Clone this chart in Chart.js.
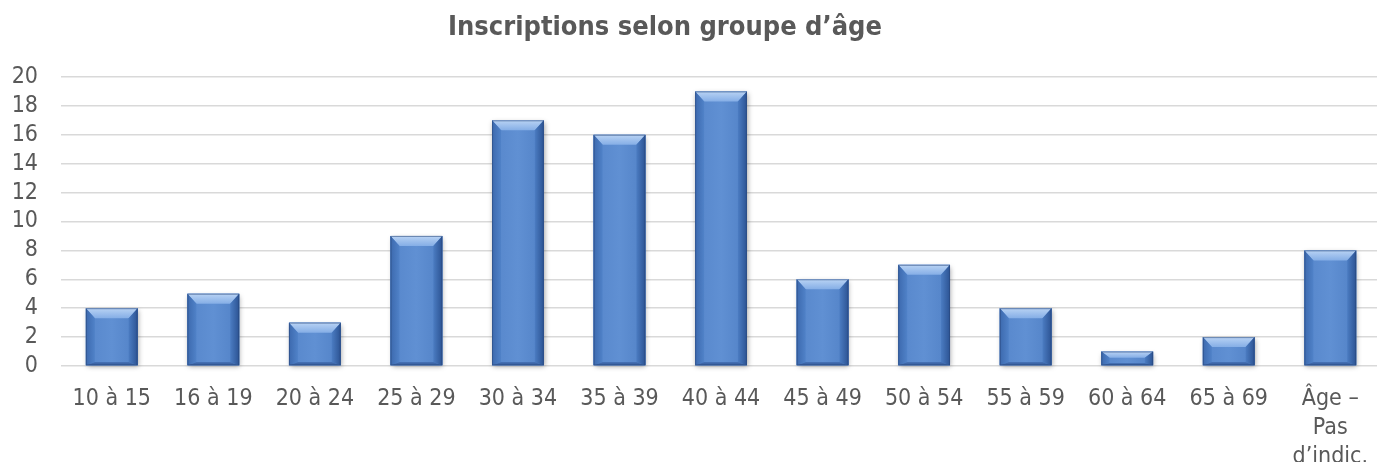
<!DOCTYPE html>
<html>
<head>
<meta charset="utf-8">
<script src="https://cdn.jsdelivr.net/npm/chart.js@4"></script>
<style>
html,body{margin:0;padding:0;background:#fff;overflow:hidden;width:1377px;height:462px;}
#wrap{position:relative;width:1387px;height:462px;}
canvas{display:block;}
</style>
</head>
<body>
<div id="wrap"><canvas id="c" width="1387" height="462"></canvas></div>
<script>
const chartTitle = "Inscriptions selon groupe d\u2019\u00e2ge";
const categories = ["10 \u00e0 15","16 \u00e0 19","20 \u00e0 24","25 \u00e0 29","30 \u00e0 34","35 \u00e0 39","40 \u00e0 44","45 \u00e0 49","50 \u00e0 54","55 \u00e0 59","60 \u00e0 64","65 \u00e0 69",["\u00c2ge \u2013","Pas","d\u2019indic."]];
const inscriptions = [4,5,3,9,17,16,19,6,7,4,1,2,8];
const yMin = 0, yMax = 20, yStep = 2;

const FONT = "'DejaVu Sans Condensed','DejaVu Sans',sans-serif";
const TXT = '#595959';

const titlePlugin = {
  id: 'customTitle',
  afterDraw(chart) {
    const ctx = chart.ctx;
    ctx.save();
    ctx.font = "bold 27px " + FONT;
    ctx.fillStyle = TXT;
    ctx.textAlign = 'center';
    ctx.textBaseline = 'alphabetic';
    ctx.fillText(chartTitle, 665, 35);
    ctx.restore();
  }
};

const bevelPlugin = {
  id: 'bevel',
  beforeDatasetsDraw(chart) {
    const ctx = chart.ctx;
    const meta = chart.getDatasetMeta(0);
    ctx.save();
    meta.data.forEach(bar => {
      const l = bar.x - bar.width / 2, r = bar.x + bar.width / 2;
      const t = bar.y, b = bar.base;
      ctx.shadowColor = 'rgba(0,0,0,0.35)';
      ctx.shadowBlur = 5;
      ctx.shadowOffsetX = 1;
      ctx.shadowOffsetY = 2;
      ctx.fillStyle = '#4f7fc4';
      ctx.fillRect(l, t, r - l, b - t);
    });
    ctx.restore();
  },
  afterDatasetsDraw(chart) {
    const ctx = chart.ctx;
    const meta = chart.getDatasetMeta(0);
    ctx.save();
    meta.data.forEach(bar => {
      const l = bar.x - bar.width / 2, r = bar.x + bar.width / 2;
      const t = bar.y, b = bar.base;
      const h = b - t;
      const dt = Math.min(10, h * 0.45), ds = Math.min(9, h * 0.6), db = Math.min(3, h * 0.15);
      let g = ctx.createLinearGradient(l, 0, r, 0);
      g.addColorStop(0, '#5686cb');
      g.addColorStop(0.5, '#6090d3');
      g.addColorStop(1, '#5181c6');
      ctx.fillStyle = g;
      ctx.fillRect(l, t, r - l, h);
      g = ctx.createLinearGradient(0, t, 0, t + dt);
      g.addColorStop(0, '#b9d3f4');
      g.addColorStop(1, '#85aee6');
      ctx.fillStyle = g;
      ctx.beginPath();
      ctx.moveTo(l, t); ctx.lineTo(r, t); ctx.lineTo(r - ds, t + dt); ctx.lineTo(l + ds, t + dt); ctx.closePath();
      ctx.fill();
      g = ctx.createLinearGradient(l, 0, l + ds, 0);
      g.addColorStop(0, '#3c69ae');
      g.addColorStop(1, '#5082c8');
      ctx.fillStyle = g;
      ctx.beginPath();
      ctx.moveTo(l, t); ctx.lineTo(l + ds, t + dt); ctx.lineTo(l + ds, b - db); ctx.lineTo(l, b); ctx.closePath();
      ctx.fill();
      g = ctx.createLinearGradient(r - ds, 0, r, 0);
      g.addColorStop(0, '#4b7cc2');
      g.addColorStop(1, '#2c5393');
      ctx.fillStyle = g;
      ctx.beginPath();
      ctx.moveTo(r, t); ctx.lineTo(r - ds, t + dt); ctx.lineTo(r - ds, b - db); ctx.lineTo(r, b); ctx.closePath();
      ctx.fill();
      ctx.fillStyle = '#3d66a8';
      ctx.beginPath();
      ctx.moveTo(l, b); ctx.lineTo(l + ds, b - db); ctx.lineTo(r - ds, b - db); ctx.lineTo(r, b); ctx.closePath();
      ctx.fill();
      ctx.strokeStyle = 'rgba(40,70,120,0.55)';
      ctx.lineWidth = 1;
      ctx.strokeRect(l + 0.5, t + 0.5, r - l - 1, h - 1);
    });
    ctx.restore();
  }
};

new Chart(document.getElementById('c'), {
  type: 'bar',
  data: {
    labels: categories,
    datasets: [{
      label: 'Inscriptions',
      data: inscriptions,
      backgroundColor: '#5b8cd1',
      borderWidth: 0,
      barPercentage: 0.51,
      categoryPercentage: 1.0
    }]
  },
  options: {
    responsive: false,
    animation: false,
    events: [],
    layout: { padding: { top: 77, left: 0, right: 0, bottom: 0 } },
    plugins: {
      legend: { display: false },
      title: { display: false },
      tooltip: { enabled: false }
    },
    scales: {
      x: {
        grid: { display: false, drawTicks: false },
        border: { display: false },
        ticks: {
          color: TXT,
          font: { family: FONT, size: 23, lineHeight: 1.25 },
          padding: 19,
          maxRotation: 0,
          autoSkip: false
        },
        afterFit(scale) { scale.height = 96; }
      },
      y: {
        min: yMin, max: yMax,
        grid: { color: '#d9d9d9', lineWidth: 1.5, drawTicks: false },
        border: { display: false },
        ticks: {
          stepSize: yStep,
          autoSkip: false,
          color: TXT,
          font: { family: FONT, size: 23 },
          padding: 23
        },
        afterFit(scale) { scale.width = 61; }
      }
    }
  },
  plugins: [bevelPlugin, titlePlugin]
});
</script>
</body>
</html>
